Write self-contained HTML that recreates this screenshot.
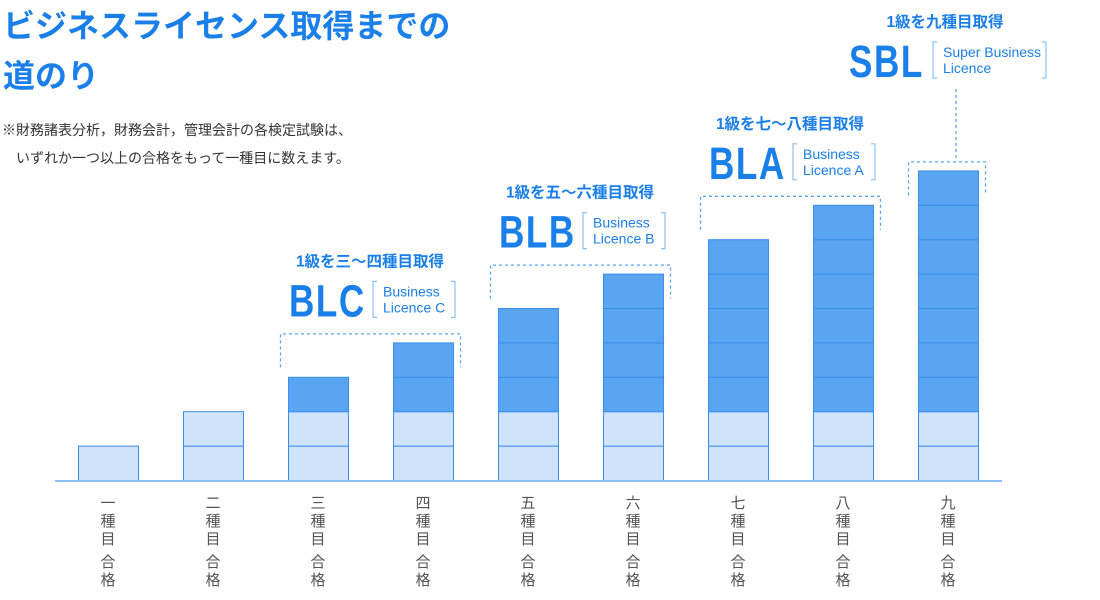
<!DOCTYPE html>
<html><head><meta charset="utf-8">
<style>
html,body{margin:0;padding:0;background:#fff;}
body{width:1100px;height:600px;overflow:hidden;position:relative;font-family:"Liberation Sans","Noto Sans CJK JP",sans-serif;}
#title{position:absolute;left:3px;top:1px;margin:0;font-size:32px;font-weight:bold;color:#1a7fe8;line-height:50px;white-space:nowrap;}
.note{position:absolute;font-size:14px;color:#333;white-space:nowrap;}
svg{position:absolute;left:0;top:0;}
</style></head>
<body>
<h1 id="title">ビジネスライセンス取得までの<br>道のり</h1>
<div class="note" style="left:2px;top:120px">※財務諸表分析，財務会計，管理会計の各検定試験は、</div>
<div class="note" style="left:16px;top:148px">いずれか一つ以上の合格をもって一種目に数えます。</div>
<svg id="chart" width="1100" height="600"></svg>
<script>
const categories=['一種目合格','二種目合格','三種目合格','四種目合格','五種目合格','六種目合格','七種目合格','八種目合格','九種目合格'];
const levels=[1,2,3,4,5,6,7,8,9];
const lightCount=2;
const groupNames=['BLC','BLB','BLA','SBL'];
const groupSubs=['1級を三〜四種目取得','1級を五〜六種目取得','1級を七〜八種目取得','1級を九種目取得'];
const groupLabels=[['Business','Licence C'],['Business','Licence B'],['Business','Licence A'],['Super Business','Licence']];
const groupStart=[2,4,6,8];
const groupEnd=[3,5,7,8];

const NS='http://www.w3.org/2000/svg';
const svg=document.getElementById('chart');
const baseY=480, segH=34.4, x0=78, step=105, bw=60;
const xPos=i=>x0+i*step;
const yPos=v=>baseY-v*segH;
function mk(tag,attrs,parent){const e=document.createElementNS(NS,tag);for(const k in attrs)e.setAttribute(k,attrs[k]);(parent||svg).appendChild(e);return e;}

levels.forEach((lv,i)=>{
  const g=mk('g',{});
  
  
  for(let s=0;s<lv;s++){
    const r=mk('rect',{x:xPos(i)+0.5,y:yPos(s+1)+0.5,width:bw,height:segH,fill:s<lightCount?'#cfe3fb':'#5aa5f2',stroke:'#3a8ee8','stroke-width':1},g);
    
    
  }
  const t=mk('text',{x:xPos(i)+bw/2,'font-size':15,fill:'#555','text-anchor':'middle'});
  
  
  const ch=[...categories[i]];
  const ys=[508,526,544,567,585];
  ch.forEach((c,k)=>{const ts=mk('tspan',{x:xPos(i)+bw/2,y:ys[k]},t);ts.textContent=c;});
});
const axis=mk('line',{x1:55,x2:1002,y1:baseY+1,y2:baseY+1,stroke:'#8dc0f5','stroke-width':2});



groupNames.forEach((nm,gi)=>{
  const g=mk('g',{});
  
  
  const a=groupStart[gi], b=groupEnd[gi];
  const L=a===b?xPos(a)-10:xPos(a)-8, R=xPos(b)+bw+7;
  const top=yPos(levels[b])-9;
  const d='M'+(L+0.5)+' '+(top+34)+' V'+(top+0.5)+' H'+(R+0.5)+' V'+(top+34);
  mk('path',{d:d,fill:'none',stroke:'#5aa5f2','stroke-width':1.3,'stroke-dasharray':'3,3'},g);
  let hx, hTop;
  if(a===b){
    const cx=xPos(a)+bw/2+8;
    mk('line',{x1:cx,x2:cx,y1:89,y2:top,stroke:'#5aa5f2','stroke-width':1.3,'stroke-dasharray':'3,3'},g);
    hTop=94; hx=849;
  } else {hTop=top; hx=L+9;}
  const sub=mk('text',{x:a===b?945:(L+R)/2,y:hTop-67,'font-size':15.5,'font-weight':'bold',fill:'#1a7fe8','text-anchor':'middle'},g);
  sub.textContent=groupSubs[gi];
  
  
  const big=mk('text',{x:0,y:0,'font-size':45,'font-weight':'bold',fill:'#1a7fe8',transform:'translate('+hx+','+(hTop-17)+') scale(0.78,1)','letter-spacing':2},g);
  big.textContent=nm;
  
  
  const bx=a===b?933:L+93, bw2=a===b?113:82, by=hTop-52, bh=36;
  mk('path',{d:'M'+(bx+4)+' '+by+' H'+bx+' V'+(by+bh)+' H'+(bx+4)+' M'+(bx+bw2-4)+' '+by+' H'+(bx+bw2)+' V'+(by+bh)+' H'+(bx+bw2-4),fill:'none',stroke:'#8dc0f5','stroke-width':1.2},g);
  groupLabels[gi].forEach((ln,k)=>{
    const t=mk('text',{x:bx+10,y:by+15+k*16,'font-size':14,fill:'#1a7fe8'},g);
    t.textContent=ln;
    
    
  });
});
</script>
</body></html>
